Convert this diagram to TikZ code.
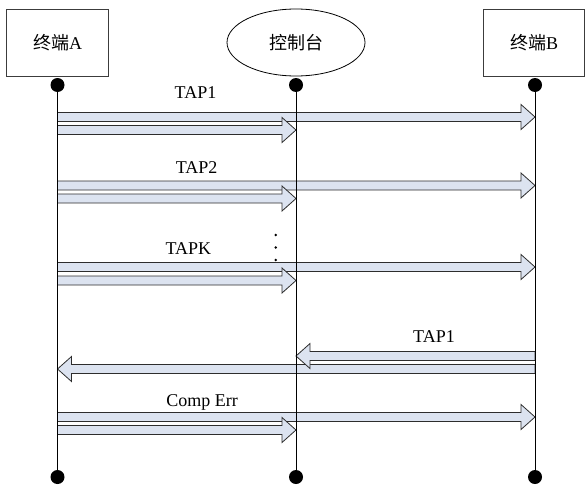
\documentclass[tikz,border=0pt]{standalone}
\usepackage{fontspec}
\setmainfont{Liberation Serif}
\newfontfamily\cjk{Noto Sans CJK SC}
\usetikzlibrary{calc,shapes.geometric}
\definecolor{afill}{RGB}{220,227,240}
\definecolor{aline}{RGB}{45,45,45}
\definecolor{boxline}{RGB}{60,60,60}
\tikzset{
  blockarrow/.style={draw=aline, fill=afill, line width=0.8pt, line join=miter},
  actorbox/.style={draw=boxline, line width=0.8pt, minimum width=102pt, minimum height=67pt, inner sep=0pt},
  enddot/.style={circle, fill=black, minimum size=14pt, inner sep=0pt},
  vdot/.style={circle, fill=black, minimum size=2.6pt, inner sep=0pt},
  lifeline/.style={draw=black, line width=0.8pt},
  msg/.style={anchor=base, inner sep=0pt}
}
\newcommand\blockarr[2]{%
  \coordinate (hd) at ($(#2)!14pt!(#1)$);
  \draw[blockarrow] ($(#1)!4.5pt!90:(#2)$) -- ($(hd)!4.5pt!90:(#2)$) -- ($(hd)!12.5pt!90:(#2)$) -- (#2)
    -- ($(hd)!12.5pt!-90:(#2)$) -- ($(hd)!4.5pt!-90:(#2)$) -- ($(#1)!4.5pt!-90:(#2)$) -- cycle;}
\begin{document}
\begin{tikzpicture}[x=1pt,y=-1pt,font=\fontsize{18}{20}\selectfont]
\useasboundingbox (0,0) rectangle (585,487);
% actors
\node[actorbox] (A) at (57.5,42.5) {{\cjk 终端}A};
\node[draw=black, line width=0.8pt, ellipse, minimum width=138pt, minimum height=67pt, inner sep=0pt] (C) at (296,42.5) {\cjk 控制台};
\node[actorbox, minimum width=101pt] (B) at (534,42.5) {{\cjk 终端}B};
% message 1
\coordinate (a1) at (57.5,117); \coordinate (b1) at (535,117);
\coordinate (a1s) at (57.5,130); \coordinate (c1) at (296,130);
\blockarr{a1}{b1}
\blockarr{a1s}{c1}
\node[msg] (t1) at (195.5,98.7) {TAP1};
% message 2
\coordinate (a2) at (57.5,185.5); \coordinate (b2) at (535,185.5);
\coordinate (a2s) at (57.5,198.5); \coordinate (c2) at (296,198.5);
\blockarr{a2}{b2}
\blockarr{a2s}{c2}
\node[msg] (t2) at (196.7,173.3) {TAP2};
% message K
\coordinate (a3) at (57.5,267); \coordinate (b3) at (535,267);
\coordinate (a3s) at (57.5,280.5); \coordinate (c3) at (296,280.5);
\blockarr{a3}{b3}
\blockarr{a3s}{c3}
\node[msg] (t3) at (188.3,254) {TAPK};
\node[vdot] (v1) at (275.7,235) {};
\node[vdot] (v2) at (275.7,247.5) {};
\node[vdot] (v3) at (275.7,260) {};
% return message
\coordinate (b4) at (535,369); \coordinate (a4) at (57.5,369);
\coordinate (b4s) at (535,356); \coordinate (c4) at (296,356);
\blockarr{b4}{a4}
\blockarr{b4s}{c4}
\node[msg] (t4) at (434,342.3) {TAP1};
% comp err
\coordinate (a5) at (57.5,417); \coordinate (b5) at (535,417);
\coordinate (a5s) at (57.5,430); \coordinate (c5) at (296,430);
\blockarr{a5}{b5}
\blockarr{a5s}{c5}
\node[msg] (t5) at (202,406) {Comp Err};
% lifelines and dots
\node[enddot] (dAt) at (57.5,85) {};
\node[enddot] (dAb) at (57.5,477) {};
\node[enddot] (dCt) at (296,85) {};
\node[enddot] (dCb) at (296,477) {};
\node[enddot] (dBt) at (535,85) {};
\node[enddot] (dBb) at (535,477) {};
\draw[lifeline] (dAt) -- (dAb);
\draw[lifeline] (dCt) -- (dCb);
\draw[lifeline] (dBt) -- (dBb);
\end{tikzpicture}
\end{document}
